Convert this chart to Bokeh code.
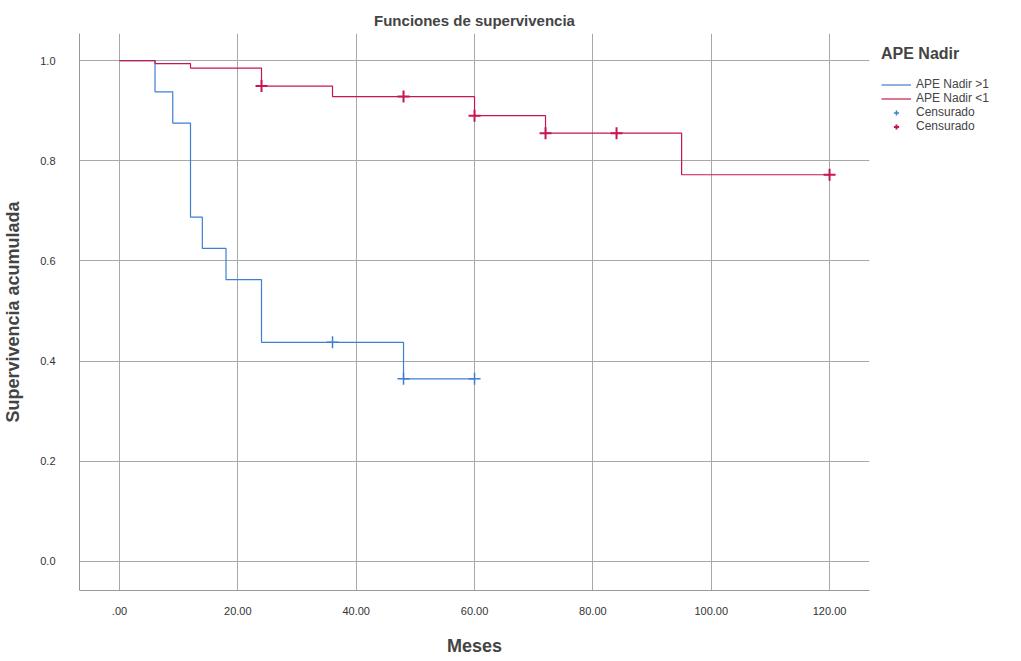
from bokeh.plotting import figure
from bokeh.models import Legend, LegendItem, Range1d, FixedTicker
from bokeh.embed import file_html
from bokeh.resources import INLINE

# ---- data ----
blue_times = [0, 6, 9, 12, 14, 18, 24, 48, 60]
blue_surv = [1.0, 0.9375, 0.875, 0.6875, 0.625, 0.5625, 0.4375, 0.3646, 0.3646]
blue_cens_t = [36, 48, 60]
blue_cens_s = [0.4375, 0.3646, 0.3646]

red_times = [0, 6, 12, 24, 36, 60, 72, 95, 120]
red_surv = [1.0, 0.994, 0.985, 0.949, 0.928, 0.89, 0.855, 0.772, 0.772]
red_cens_t = [24, 48, 60, 72, 84, 120]
red_cens_s = [0.949, 0.928, 0.89, 0.855, 0.855, 0.772]

x_ticks = [0, 20, 40, 60, 80, 100, 120]
x_labels = [".00", "20.00", "40.00", "60.00", "80.00", "100.00", "120.00"]
y_ticks = [0.0, 0.2, 0.4, 0.6, 0.8, 1.0]
y_labels = ["0.0", "0.2", "0.4", "0.6", "0.8", "1.0"]

BLUE = "#3f7fcf"
RED = "#c8174f"
FONT = "Liberation Sans"

p = figure(frame_width=790, frame_height=557, output_backend="svg", toolbar_location=None,
           x_range=Range1d(-6.76, 126.75), y_range=Range1d(-0.058, 1.054),
           min_border_left=72, min_border_right=0, min_border_top=33,
           min_border_bottom=58, title="Funciones de supervivencia")
p.outline_line_color = None
p.background_fill_color = "white"

p.title.align = "center"
p.title.text_font = FONT
p.title.text_font_size = "15px"
p.title.text_font_style = "bold"
p.title.offset = 15

p.xaxis.ticker = FixedTicker(ticks=x_ticks)
p.xaxis.major_label_overrides = {t: l for t, l in zip(x_ticks, x_labels)}
p.yaxis.ticker = FixedTicker(ticks=y_ticks)
p.yaxis.major_label_overrides = {t: l for t, l in zip(y_ticks, y_labels)}
p.xaxis.axis_label = "Meses"
p.yaxis.axis_label = "Supervivencia acumulada"
for ax in (p.xaxis, p.yaxis):
    ax.axis_label_text_font = FONT
    ax.axis_label_text_font_size = "18px"
    ax.axis_label_text_font_style = "bold"
    ax.major_label_text_font = FONT
    ax.major_label_text_font_size = "11px"
    ax.major_label_text_color = "#333333"
    ax.axis_line_color = "#999999"
    ax.major_tick_line_color = None
    ax.minor_tick_line_color = None
p.xaxis.major_label_standoff = 10
p.xaxis.axis_label_standoff = 18
p.yaxis.major_label_standoff = 18
p.yaxis.axis_label_standoff = 14

p.xgrid.grid_line_color = "#a8a8a8"
p.ygrid.grid_line_color = "#a8a8a8"

r_blue = p.step(blue_times, blue_surv, mode="after", line_color=BLUE, line_width=1.2)
r_red = p.step(red_times, red_surv, mode="after", line_color=RED, line_width=1.2)
c_blue = p.scatter(blue_cens_t, blue_cens_s, marker="cross", size=12, line_color=BLUE, line_width=1.5)
c_red = p.scatter(red_cens_t, red_cens_s, marker="cross", size=12, line_color=RED, line_width=2)

legend = Legend(items=[
    LegendItem(label="APE Nadir >1", renderers=[r_blue]),
    LegendItem(label="APE Nadir <1", renderers=[r_red]),
    LegendItem(label="Censurado", renderers=[c_blue]),
    LegendItem(label="Censurado", renderers=[c_red]),
], location="top_left")
legend.title = "APE Nadir"
legend.title_text_font = FONT
legend.title_text_font_size = "16px"
legend.title_text_font_style = "bold"
legend.title_standoff = 14
legend.label_text_font = FONT
legend.label_text_font_size = "12px"
legend.label_text_color = "#444444"
legend.label_height = 13
legend.glyph_height = 13
legend.glyph_width = 30
legend.spacing = 0
legend.padding = 4
legend.margin = 12
legend.border_line_color = None
legend.background_fill_alpha = 0
p.add_layout(legend, "right")

open("out.html", "w").write(file_html(p, INLINE))
